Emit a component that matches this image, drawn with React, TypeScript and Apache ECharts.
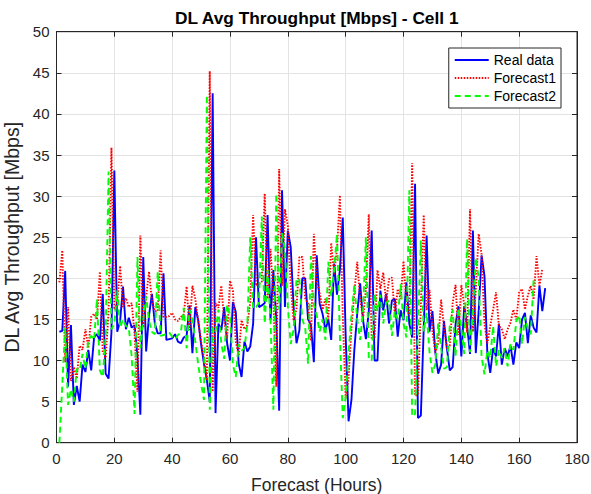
import React, { useEffect, useRef } from 'react';
import * as echarts from 'echarts';

// Hourly values, hour 1 .. N
const realData = [
  13.5, 13.6, 20.9, 6.8, 14.3, 4.6, 6.9, 5.0, 9.5, 8.6,
  11.3, 8.8, 12.8, 13.2, 12.4, 18.1, 8.4, 7.8, 13.4, 33.1,
  13.5, 14.8, 19.0, 13.8, 15.2, 14.0, 14.3, 10.5, 3.4, 22.6,
  11.1, 15.5, 18.1, 14.5, 13.3, 13.3, 20.6, 12.5, 12.6, 12.7,
  13.2, 12.3, 12.1, 12.8, 13.0, 16.7, 10.9, 16.5, 14.9, 12.0,
  9.6, 7.6, 5.0, 42.5, 3.6, 14.5, 13.7, 16.5, 12.1, 10.0,
  17.1, 15.9, 9.6, 8.0, 12.3, 11.1, 11.7, 14.5, 25.0, 16.5,
  16.7, 17.0, 27.7, 14.9, 21.0, 15.0, 3.9, 30.7, 16.5, 25.8,
  23.8, 16.5, 12.1, 13.7, 20.0, 20.0, 15.0, 14.3, 9.8, 22.8,
  16.9, 15.7, 13.7, 15.0, 12.5, 21.8, 18.0, 21.0, 27.4, 13.0,
  2.6, 5.2, 11.3, 15.7, 19.4, 14.9, 12.6, 16.0, 25.8, 10.0,
  10.0, 18.5, 16.1, 18.1, 14.5, 17.3, 17.5, 12.9, 16.1, 14.9,
  19.5, 14.5, 12.8, 31.5, 3.0, 3.3, 14.0, 25.2, 13.5, 16.0,
  11.0, 8.4, 9.5, 14.8, 11.5, 8.8, 9.2, 14.4, 16.6, 10.5,
  16.6, 14.2, 10.8, 25.8, 10.9, 16.0, 22.8, 20.3, 10.8, 8.5,
  11.5, 10.5, 14.5, 9.5, 11.5, 10.5, 11.8, 9.5, 12.2, 11.5,
  15.0, 15.8, 12.1, 15.5, 14.0, 13.4, 19.1, 16.0, 18.8,
];

const forecast1 = [
  19.5, 23.4, 9.8, 16.5, 7.5, 9.2, 7.8, 11.8, 11.3, 13.8,
  11.5, 15.3, 15.7, 15.0, 20.8, 11.0, 10.3, 15.9, 35.9, 16.2,
  17.0, 21.5, 16.5, 17.6, 16.5, 17.0, 13.2, 6.2, 25.2, 14.0,
  17.8, 20.8, 17.2, 16.0, 16.0, 23.4, 15.3, 15.3, 15.4, 15.8,
  15.0, 14.8, 15.3, 15.6, 19.0, 13.7, 19.1, 17.5, 14.8, 12.3,
  10.3, 7.6, 45.2, 6.2, 17.0, 16.4, 19.1, 14.8, 12.7, 19.7,
  18.5, 12.3, 10.6, 14.9, 13.8, 14.3, 17.1, 27.7, 19.1, 19.3,
  19.6, 30.3, 17.5, 23.6, 17.6, 6.8, 33.3, 19.1, 28.4, 26.4,
  19.1, 14.8, 16.3, 22.6, 22.6, 17.6, 16.9, 12.4, 25.4, 19.5,
  18.3, 16.2, 17.5, 15.0, 24.3, 20.5, 23.5, 30.1, 15.5, 5.4,
  7.8, 13.9, 18.3, 22.0, 17.5, 15.1, 18.6, 27.8, 12.6, 12.6,
  21.0, 18.7, 20.7, 17.1, 19.9, 20.1, 15.5, 18.7, 17.5, 22.1,
  17.1, 15.4, 34.0, 5.7, 5.9, 16.6, 27.7, 16.1, 18.6, 13.6,
  11.0, 12.1, 17.4, 14.1, 11.4, 11.8, 17.0, 19.2, 13.1, 19.2,
  16.8, 13.4, 28.4, 13.5, 18.6, 25.4, 22.9, 14.5, 12.1, 14.2,
  16.2, 18.3, 14.2, 13.8, 12.6, 13.8, 14.6, 16.2, 15.0, 18.3,
  18.7, 16.2, 17.9, 19.1, 17.4, 22.7, 19.1, 21.1,
];

const forecast2 = [
  0.0, 7.0, 14.0, 4.6, 6.5, 5.0, 9.0, 8.8, 10.8, 9.0,
  12.5, 13.0, 12.5, 17.5, 8.8, 8.0, 13.0, 33.0, 13.8, 14.5,
  18.5, 14.0, 15.0, 14.2, 14.0, 10.5, 3.5, 22.6, 11.5, 15.0,
  17.8, 14.8, 13.5, 13.2, 20.8, 13.0, 13.1, 13.2, 13.4, 12.9,
  12.6, 13.1, 13.4, 16.4, 11.5, 16.2, 15.0, 12.3, 9.5, 7.2,
  5.2, 42.3, 4.0, 14.0, 13.5, 16.2, 12.0, 10.2, 16.8, 15.5,
  9.5, 8.0, 12.0, 11.2, 11.5, 14.5, 25.0, 16.3, 16.5, 17.0,
  27.5, 14.5, 21.0, 15.0, 4.0, 30.3, 16.2, 25.5, 23.5, 16.5,
  12.0, 13.8, 20.0, 19.8, 15.0, 14.0, 9.6, 22.7, 16.8, 15.5,
  13.5, 15.0, 12.5, 22.0, 17.8, 21.0, 25.4, 13.0, 3.0, 5.5,
  11.0, 15.5, 19.2, 15.0, 12.5, 16.0, 25.0, 10.2, 10.0, 18.2,
  16.0, 18.0, 14.5, 17.0, 17.3, 13.0, 16.0, 15.0, 19.3, 14.5,
  12.8, 30.7, 3.2, 3.5, 14.0, 24.6, 13.5, 15.8, 11.0, 8.5,
  9.5, 14.5, 11.5, 9.0, 9.2, 14.2, 16.2, 10.5, 16.4, 14.0,
  10.8, 24.8, 11.0, 16.0, 22.5, 20.0, 10.5, 8.3, 11.2, 10.3,
  14.2, 9.3, 11.3, 10.3, 11.5, 9.3, 12.0, 11.3, 14.8, 15.5,
  12.0, 15.3, 13.8, 13.2, 19.8,
];

const seriesNames = ['Real data', 'Forecast1', 'Forecast2'];
const chartTitle = 'DL Avg Throughput [Mbps] - Cell 1';
const xAxisTitle = 'Forecast (Hours)';
const yAxisTitle = 'DL Avg Throughput [Mbps]';

const FONT = "'Liberation Sans', Arial, Helvetica, sans-serif";
const AX = '#262626';
const GRIDC = '#e3e3e3';

const toPairs = (arr: number[]) => arr.map((v, i) => [i + 1, v]);

export default function App() {
  const ref = useRef<HTMLDivElement>(null);
  useEffect(() => {
    if (!ref.current) return;
    const chart = echarts.init(ref.current, null, { renderer: 'svg' });
    const gridLeft = 56.5;
    const gridRight = 14;
    const gridTop = 31.7;
    const gridBottom = 51.3;
    const plotCenterX = gridLeft + (591 - gridLeft - gridRight) / 2;
    const baseAxis = {
      type: 'value' as const,
      axisLine: { show: true, onZero: false, lineStyle: { color: AX, width: 1 } },
      axisTick: { show: true, inside: true, length: 5, lineStyle: { color: AX } },
    };
    chart.setOption({
      animation: false,
      backgroundColor: '#ffffff',
      textStyle: { fontFamily: FONT },
      grid: {
        left: gridLeft, right: gridRight, top: gridTop, bottom: gridBottom,
        containLabel: false, outerBoundsMode: 'none',
        show: true, borderColor: AX, borderWidth: 1, backgroundColor: 'transparent',
      },
      graphic: [
        {
          type: 'text',
          style: {
            text: chartTitle, x: plotCenterX, y: 17.5, textAlign: 'center', textVerticalAlign: 'middle',
            font: `bold 17.3px ${FONT}`, fill: '#000',
          },
        },
      ],
      legend: {
        data: seriesNames,
        orient: 'vertical',
        right: 30,
        top: 48,
        itemWidth: 34,
        itemHeight: 14,
        itemGap: 4,
        padding: [5, 5, 5, 5],
        borderColor: AX,
        borderWidth: 1,
        backgroundColor: '#ffffff',
        itemStyle: { opacity: 0 },
        textStyle: { fontSize: 14, color: '#000', fontFamily: FONT },
      },
      xAxis: [
        {
          ...baseAxis,
          min: 0, max: 180, interval: 20,
          axisLabel: { color: AX, fontSize: 15, margin: 8, fontFamily: FONT },
          splitLine: { show: true, lineStyle: { color: GRIDC, width: 1 } },
          name: xAxisTitle, nameLocation: 'middle', nameGap: 33,
          nameTextStyle: { fontSize: 17.5, color: AX, fontFamily: FONT },
        },
        {
          ...baseAxis,
          position: 'top',
          min: 0, max: 180, interval: 20,
          axisLabel: { show: false },
          splitLine: { show: false },
        },
      ],
      yAxis: [
        {
          ...baseAxis,
          min: 0, max: 50, interval: 5,
          axisLabel: { color: AX, fontSize: 15, margin: 7, fontFamily: FONT },
          splitLine: { show: true, lineStyle: { color: GRIDC, width: 1 } },
          name: yAxisTitle, nameLocation: 'middle', nameGap: 28, nameRotate: 90,
          nameTextStyle: { fontSize: 19.5, color: AX, fontFamily: FONT },
        },
        {
          ...baseAxis,
          position: 'right',
          min: 0, max: 50, interval: 5,
          axisLabel: { show: false },
          splitLine: { show: false },
        },
      ],
      series: [
        {
          name: seriesNames[0], type: 'line', data: toPairs(realData), symbol: 'none',
          lineStyle: { color: '#0000ff', width: 1.9, type: 'solid' }, itemStyle: { color: '#0000ff' },
        },
        {
          name: seriesNames[1], type: 'line', data: toPairs(forecast1), symbol: 'none',
          lineStyle: { color: '#ff0000', width: 1.9, type: [1.5, 1.5] }, itemStyle: { color: '#ff0000' },
        },
        {
          name: seriesNames[2], type: 'line', data: toPairs(forecast2), symbol: 'none',
          lineStyle: { color: '#00ff00', width: 1.9, type: [6, 4] }, itemStyle: { color: '#00ff00' },
        },
      ],
    });
    return () => chart.dispose();
  }, []);
  return (
    <div
      ref={ref}
      style={{ position: 'fixed', left: 0, top: 0, width: 591, height: 494, background: '#fff' }}
    />
  );
}
